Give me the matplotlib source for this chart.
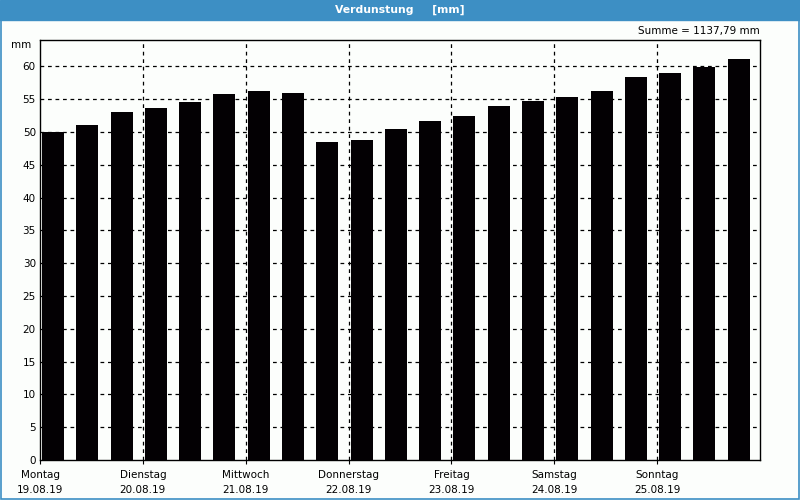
import matplotlib
matplotlib.use("Agg")
import matplotlib.pyplot as plt
from matplotlib.patches import Rectangle
import numpy as np

# Data: three values per day (8h intervals), 19.08.19 - 25.08.19
days = ["Montag", "Dienstag", "Mittwoch", "Donnerstag",
        "Freitag", "Samstag", "Sonntag"]
dates = ["19.08.19", "20.08.19", "21.08.19", "22.08.19",
         "23.08.19", "24.08.19", "25.08.19"]
values = [50.0, 51.0, 53.1, 53.6, 54.5, 55.7, 56.2,
          55.9, 48.4, 48.7, 50.4, 51.6, 52.4, 53.9,
          54.7, 55.3, 56.3, 58.3, 58.9, 59.9, 61.1]
y_ticks = list(range(0, 65, 5))
title = "Verdunstung     [mm]"
total_text = "Summe = 1137,79 mm"

blue = "#3d8fc4"
bg = "#fcfefc"

fig = plt.figure(figsize=(8, 5), dpi=100, facecolor=bg)
ax = fig.add_axes([0.05, 0.08, 0.90, 0.84])
ax.set_facecolor(bg)

# bars: 3 slots per day, bar starts a little after slot start
slot = 1 / 3
x_left = np.arange(len(values)) * slot + 0.02
ax.bar(x_left, values, width=0.213, align="edge", color="#030003",
       zorder=3)

ax.set_xlim(0, 7)
ax.set_ylim(0, 64)

dash = (0, (3, 3))
for y in y_ticks[1:]:
    ax.axhline(y, color="black", linestyle=dash, linewidth=0.9, zorder=1)
for d in range(1, 7):
    ax.axvline(d, color="black", linestyle=dash, linewidth=0.9, zorder=1)

ax.set_yticks(y_ticks)
ax.set_yticklabels([str(v) for v in y_ticks], fontsize=7.5)
ax.tick_params(axis="y", length=0, pad=3)

ax.set_xticks(range(7))
ax.set_xticklabels([f"{d}\n\n{dt}" for d, dt in zip(days, dates)],
                   fontsize=7.5, linespacing=0.72)
ax.tick_params(axis="x", length=3, width=0.8, direction="out", pad=4)

for s in ax.spines.values():
    s.set_linewidth(1.0)
    s.set_color("black")

ax.text(-0.012, 1.0, "mm", transform=ax.transAxes, ha="right",
        va="top", fontsize=7.5)
ax.text(1.0, 1.01, total_text, transform=ax.transAxes, ha="right",
        va="bottom", fontsize=7.5)

# title bar and frame
fig.patches.append(Rectangle((0, 1 - 20 / 500), 1, 20 / 500,
                             transform=fig.transFigure, color=blue,
                             zorder=0))
fig.patches.append(Rectangle((0.0015, 0.003), 0.997, 0.994,
                             transform=fig.transFigure, fill=False,
                             edgecolor=blue, linewidth=1.2, zorder=0))
fig.text(0.5, 1 - 10 / 500, title, ha="center", va="center",
         color="white", fontsize=7.8, fontweight="bold")

fig.savefig("out.png", dpi=100, facecolor=bg)
